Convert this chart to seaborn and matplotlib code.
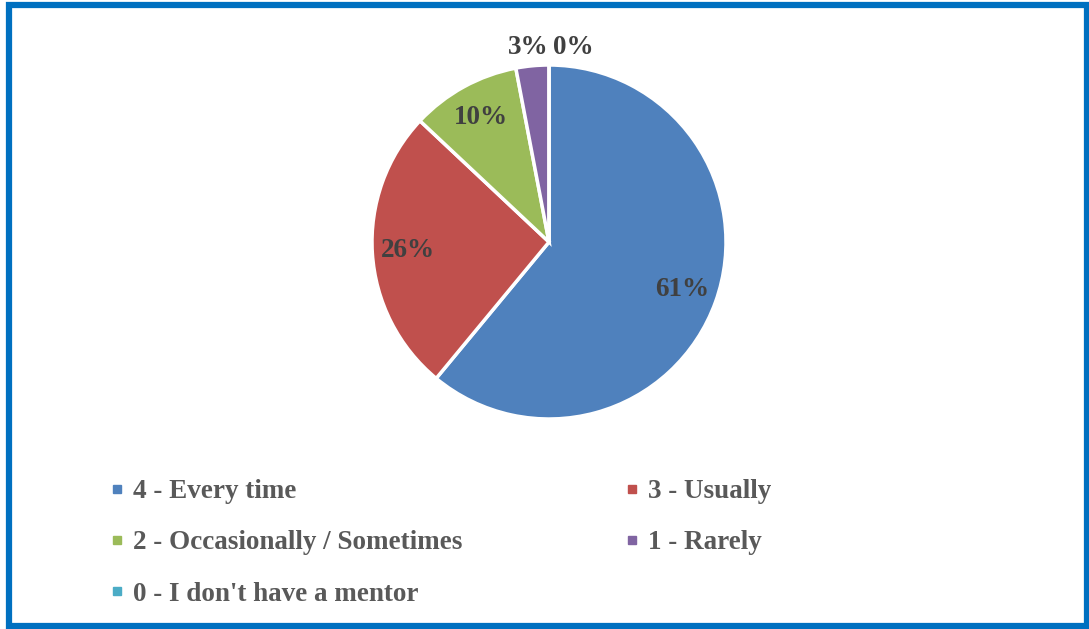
import matplotlib.pyplot as plt
import matplotlib.patches as mpatches
from matplotlib.lines import Line2D
import seaborn as sns

# ── Data ─────────────────────────────────────────────────────────────────────
categories = ["4 - Every time", "3 - Usually", "2 - Occasionally / Sometimes",
              "1 - Rarely", "0 - I don't have a mentor"]
shares = [61, 26, 10, 3, 0]
colors = ["#4F81BD", "#C0504D", "#9BBB59", "#8064A2", "#4BACC6"]

LABEL_COLOR = "#404040"
TEXT_COLOR = "#595959"
FRAME_COLOR = "#0070C0"
W, H = 1089, 629
FS = 19.5

sns.set_theme(style="white")
plt.rcParams["font.family"] = ["Liberation Serif", "DejaVu Serif"]

fig = plt.figure(figsize=(W / 100, H / 100), dpi=100)
fig.patch.set_facecolor("white")

# pie axes: centre (549, 242), radius 177 px
cx, cy, r = 549, 242, 177
ax = fig.add_axes([(cx - r) / W, (H - cy - r) / H, 2 * r / W, 2 * r / H])

wedges, _, autotexts = ax.pie(
    shares, colors=colors, startangle=90, counterclock=False,
    autopct=lambda p: f"{p:.0f}%", pctdistance=0.8,
    wedgeprops=dict(edgecolor="white", linewidth=2.5),
    textprops=dict(color=LABEL_COLOR, fontsize=FS, fontweight="bold"),
)
ax.set_xlim(-1, 1)
ax.set_ylim(-1, 1)
ax.set_aspect("equal")
ax.axis("off")

# small slices: labels above the pie
for w, t, v in zip(wedges, autotexts, shares):
    if v < 5:
        t.set_y(1.1)
        if w.theta2 - w.theta1 > 0.01:
            t.set_x(0.0)
            t.set_ha("right")
        else:
            t.set_x(0.02)
            t.set_ha("left")
        t.set_va("center")

# legend in two columns
def handle(c):
    return Line2D([], [], marker="s", color=c, linestyle="none", markersize=6)

legend_kw = dict(frameon=False, labelcolor=TEXT_COLOR,
                 handlelength=0.5, handletextpad=0.35, labelspacing=0.97,
                 borderpad=0, borderaxespad=0, loc="upper left",
                 prop=dict(weight="bold", size=FS))
left_idx = [0, 2, 4]
right_idx = [1, 3]
fig.legend([handle(colors[i]) for i in left_idx],
           [categories[i] for i in left_idx],
           bbox_to_anchor=(110 / W, 1 - 479 / H), **legend_kw)
fig.legend([handle(colors[i]) for i in right_idx],
           [categories[i] for i in right_idx],
           bbox_to_anchor=(625 / W, 1 - 479 / H), **legend_kw)

# outer blue frame
frame = mpatches.Rectangle((9 / W, 3 / H), 1078 / W, 1 - 8 / H,
                           transform=fig.transFigure, fill=False,
                           edgecolor=FRAME_COLOR, linewidth=4.5)
fig.patches.append(frame)

fig.savefig("out.png", dpi=100, facecolor="white")
plt.close(fig)
